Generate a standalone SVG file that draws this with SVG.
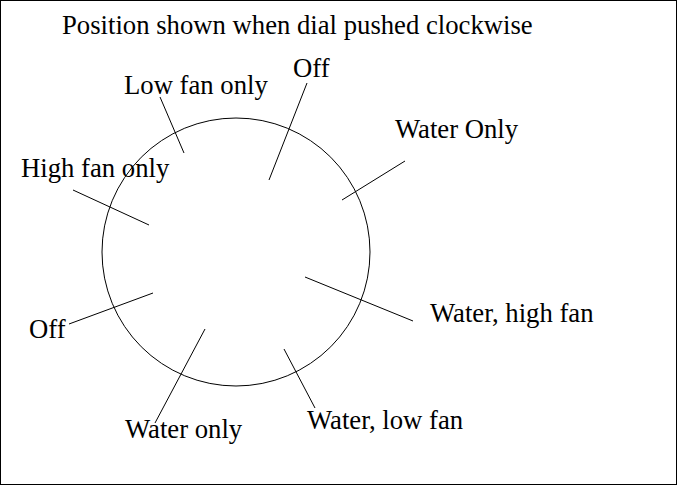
<svg xmlns="http://www.w3.org/2000/svg" width="678" height="486" viewBox="0 0 678 486">
<style>
text{font-family:"Liberation Serif","Times New Roman",serif;font-size:26.7px;fill:#000}
line,circle,rect{stroke:#000;stroke-width:1;fill:none}
</style>
<rect x="0.5" y="0.5" width="676" height="484" fill="#fff"/>
<text x="62" y="34">Position shown when dial pushed clockwise</text>
<g id="dial"><circle cx="236" cy="252" r="134"/></g>
<g id="connectors">
<line x1="160" y1="97" x2="184" y2="153"/>
<line x1="307" y1="83" x2="269" y2="180"/>
<line x1="73" y1="190" x2="149" y2="225"/>
<line x1="69" y1="324" x2="153" y2="293"/>
<line x1="205" y1="329" x2="155" y2="423"/>
<line x1="284" y1="349" x2="315" y2="408"/>
<line x1="305" y1="277" x2="413" y2="321"/>
<line x1="405" y1="161" x2="342" y2="200"/>
</g>
<g id="low-fan-only"><text x="124" y="94">Low fan only</text></g>
<g id="off-top"><text x="293" y="77">Off</text></g>
<g id="high-fan-only"><text x="21" y="177">High fan only</text></g>
<g id="water-only-top"><text x="395" y="138">Water Only</text></g>
<g id="water-high-fan"><text x="430" y="322">Water, high fan</text></g>
<g id="water-low-fan"><text x="307" y="429">Water, low fan</text></g>
<g id="water-only-bottom"><text x="125" y="438">Water only</text></g>
<g id="off-left"><text x="29" y="338">Off</text></g>
</svg>
